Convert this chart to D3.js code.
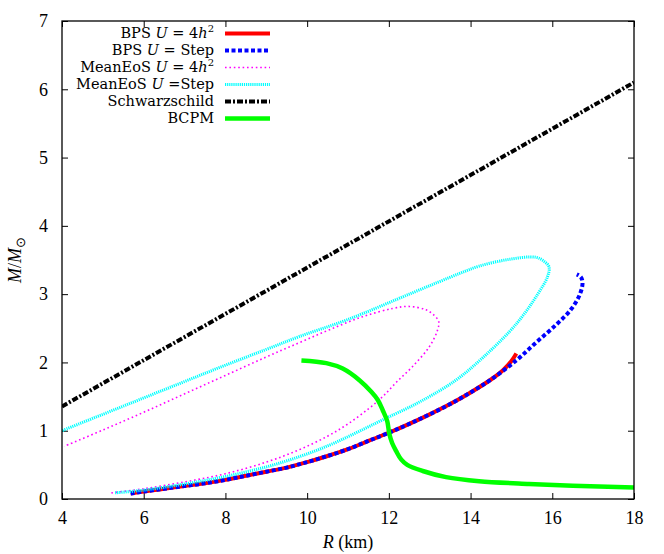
<!DOCTYPE html>
<html>
<head>
<meta charset="utf-8">
<script src="https://cdn.jsdelivr.net/npm/d3@7"></script>
<style>
  body { margin: 0; background: #fff; }
  svg text { font-family: "Liberation Serif", serif; }
</style>
</head>
<body>
<svg id="chart" width="664" height="554"></svg>
<script>

// M-R curves as [R (km), M/Msun]
var bps4h2 = [
  [5.68, 0.08], [6.0, 0.11], [6.5, 0.15], [7.0, 0.19], [7.5, 0.23], [8.0, 0.28],
  [8.5, 0.34], [9.0, 0.40], [9.5, 0.46], [10.0, 0.54], [10.5, 0.63], [11.0, 0.73],
  [11.5, 0.85], [12.0, 0.97], [12.5, 1.10], [13.0, 1.24], [13.5, 1.39], [14.0, 1.56],
  [14.5, 1.75], [14.8, 1.89], [15.0, 2.02], [15.12, 2.13]
];

var bpsStep = [
  [5.68, 0.08], [6.0, 0.11], [6.5, 0.15], [7.0, 0.19], [7.5, 0.23], [8.0, 0.28],
  [8.5, 0.34], [9.0, 0.40], [9.5, 0.46], [10.0, 0.54], [10.5, 0.63], [11.0, 0.73],
  [11.5, 0.85], [12.0, 0.97], [12.5, 1.10], [13.0, 1.24], [13.5, 1.39], [14.0, 1.56],
  [14.5, 1.75], [15.12, 2.03], [15.6, 2.29], [16.09, 2.55], [16.45, 2.77],
  [16.67, 2.99], [16.74, 3.16], [16.7, 3.25], [16.6, 3.29]
];

var mean4h2 = [
  [5.21, 0.09], [6.0, 0.15], [7.0, 0.25], [8.0, 0.37], [9.0, 0.54], [9.8, 0.72],
  [10.5, 0.92], [11.0, 1.10], [11.5, 1.32], [11.85, 1.50], [12.2, 1.72], [12.58, 1.94],
  [12.99, 2.23], [13.19, 2.47], [13.22, 2.60], [13.11, 2.69], [12.91, 2.77],
  [12.5, 2.82], [12.09, 2.79], [11.36, 2.67], [10.55, 2.48], [9.81, 2.29],
  [9.0, 2.08], [8.0, 1.81], [7.0, 1.54], [6.0, 1.27], [5.0, 1.01], [4.05, 0.77]
];

var meanStep = [
  [5.3, 0.09], [6.0, 0.13], [7.0, 0.22], [8.0, 0.33], [9.0, 0.47], [9.81, 0.62],
  [10.55, 0.79], [11.2, 0.97], [11.85, 1.16], [12.75, 1.42], [13.64, 1.74],
  [14.3, 2.07], [14.95, 2.45], [15.3, 2.70], [15.6, 2.96], [15.88, 3.25],
  [15.92, 3.40], [15.8, 3.48], [15.6, 3.54], [14.95, 3.51], [14.21, 3.41],
  [13.72, 3.30], [12.58, 3.02], [10.96, 2.62], [9.81, 2.38], [9.0, 2.19],
  [8.0, 1.96], [7.0, 1.72], [6.0, 1.48], [5.0, 1.24], [4.0, 1.00]
];

var schwarzschild = [[4.0, 1.355], [18.0, 6.10]];

var bcpm = [
  [9.86, 2.03], [10.47, 1.99], [10.87, 1.91], [11.28, 1.74], [11.57, 1.57],
  [11.73, 1.45], [11.85, 1.30], [11.96, 1.14], [12.01, 0.96], [12.08, 0.82],
  [12.18, 0.70], [12.3, 0.58], [12.45, 0.50], [12.83, 0.41], [13.4, 0.32],
  [14.21, 0.26], [15.43, 0.22], [16.5, 0.195], [18.0, 0.17]
];

var xTicks = [4, 6, 8, 10, 12, 14, 16, 18];
var yTicks = [0, 1, 2, 3, 4, 5, 6, 7];

var series = [
  { name: "BPS", math: "U = 4h", sup: "2", data: bps4h2, color: "#ff0000", width: 4, dash: null },
  { name: "BPS", math: "U = ", rest: "Step", data: bpsStep, color: "#0000ff", width: 4, dash: "4,2.5" },
  { name: "MeanEoS", math: "U = 4h", sup: "2", data: mean4h2, color: "#ff00ff", width: 1.6, dash: "1.6,2.8" },
  { name: "MeanEoS", math: "U =", rest: "Step", data: meanStep, color: "#00ffff", width: 3, dash: "1.2,0.9" },
  { name: "Schwarzschild", data: schwarzschild, color: "#000000", width: 4, dash: "6,2,2,2" },
  { name: "BCPM", data: bcpm, color: "#00ff00", width: 4.5, dash: null }
];

var serif = "Liberation Serif";

var svg = d3.select("#chart");
var width = 664, height = 554;
var margin = { top: 21, right: 30, bottom: 55, left: 62 };

var x = d3.scaleLinear().domain([4, 18]).range([margin.left, width - margin.right]);
var y = d3.scaleLinear().domain([0, 7]).range([height - margin.bottom, margin.top]);

svg.append("defs").append("clipPath")
    .attr("id", "plotclip")
  .append("rect")
    .attr("x", margin.left)
    .attr("y", margin.top)
    .attr("width", x(18) - x(4))
    .attr("height", y(0) - y(7));

// axes with inward ticks, mirrored on top / right
var tickLen = 6;
var fmt = d3.format("d");

function styleAxis(g) {
  g.attr("font-family", serif).attr("font-size", 18);
  g.select(".domain").remove();
  g.selectAll(".tick line").attr("stroke", "#000");
  g.selectAll(".tick text").attr("fill", "#000");
}

svg.append("g")
    .attr("transform", "translate(0," + y(0) + ")")
    .call(d3.axisBottom(x).tickValues(xTicks).tickFormat(fmt).tickSizeInner(-tickLen).tickSizeOuter(0).tickPadding(12))
    .call(styleAxis);

svg.append("g")
    .attr("transform", "translate(0," + y(7) + ")")
    .call(d3.axisTop(x).tickValues(xTicks).tickSizeInner(-tickLen).tickSizeOuter(0).tickFormat(""))
    .call(styleAxis);

svg.append("g")
    .attr("transform", "translate(" + x(4) + ",0)")
    .call(d3.axisLeft(y).tickValues(yTicks).tickFormat(fmt).tickSizeInner(-tickLen).tickSizeOuter(0).tickPadding(14))
    .call(styleAxis);

svg.append("g")
    .attr("transform", "translate(" + x(18) + ",0)")
    .call(d3.axisRight(y).tickValues(yTicks).tickSizeInner(-tickLen).tickSizeOuter(0).tickFormat(""))
    .call(styleAxis);

var line = d3.line()
    .x(function(d) { return x(d[0]); })
    .y(function(d) { return y(d[1]); })
    .curve(d3.curveCatmullRom.alpha(0.5));

var curves = svg.append("g").attr("clip-path", "url(#plotclip)");

curves.selectAll("path")
    .data(series)
    .enter().append("path")
      .attr("d", function(d) { return line(d.data); })
      .attr("fill", "none")
      .attr("stroke", function(d) { return d.color; })
      .attr("stroke-width", function(d) { return d.width; })
      .attr("stroke-dasharray", function(d) { return d.dash; })
      .attr("stroke-linejoin", "round");

// frame
svg.append("rect")
    .attr("x", x(4))
    .attr("y", y(7))
    .attr("width", x(18) - x(4))
    .attr("height", y(0) - y(7))
    .attr("fill", "none")
    .attr("stroke", "#000")
    .attr("stroke-width", 1.3);

// legend (rows are tight, so a slightly smaller wide serif keeps them apart)
var legend = svg.append("g");
var rows = legend.selectAll("g")
    .data(series)
    .enter().append("g")
      .attr("transform", function(d, i) { return "translate(0," + (33 + i * 17) + ")"; });

rows.append("line")
    .attr("x1", 225).attr("x2", 270)
    .attr("y1", 0.5).attr("y2", 0.5)
    .attr("stroke", function(d) { return d.color; })
    .attr("stroke-width", function(d) { return d.width; })
    .attr("stroke-dasharray", function(d) { return d.dash; });

var labels = rows.append("text")
    .attr("x", 214)
    .attr("y", 5)
    .attr("text-anchor", "end")
    .attr("font-family", "DejaVu Serif")
    .style("font-family", "'DejaVu Serif', serif")
    .style("font-size", "14.5px");

labels.each(function(d) {
  var t = d3.select(this);
  t.append("tspan").text(d.name);
  if (d.math) {
    var parts = d.math.split(" ");
    t.append("tspan").text(" ");
    parts.forEach(function(p, k) {
      if (k > 0) t.append("tspan").text(" ");
      if (p === "=") t.append("tspan").text("=");
      else if (p !== "") {
        // letters italic, digits upright
        var m = p.match(/^(\d*)(\D*)$/);
        if (m && m[1]) t.append("tspan").text(m[1]);
        if (m && m[2]) t.append("tspan").style("font-style", "italic").text(m[2]);
      }
    });
    if (d.sup) t.append("tspan").attr("dy", -6).style("font-size", "10px").text(d.sup);
    if (d.rest) t.append("tspan").text(d.rest);
  }
});

// axis titles
var xt = svg.append("text")
    .attr("x", (x(4) + x(18)) / 2)
    .attr("y", 548)
    .attr("text-anchor", "middle")
    .attr("font-family", serif)
    .style("font-size", "18px");
xt.append("tspan").style("font-style", "italic").text("R");
xt.append("tspan").text(" (km)");

var yt = svg.append("text")
    .attr("transform", "translate(21," + ((y(0) + y(7)) / 2) + ") rotate(-90)")
    .attr("text-anchor", "middle")
    .attr("font-family", serif)
    .style("font-size", "18px");
yt.append("tspan").style("font-style", "italic").text("M");
yt.append("tspan").text("/");
yt.append("tspan").style("font-style", "italic").text("M");
yt.append("tspan").attr("dy", 4).style("font-size", "13px").text("\u2299");

</script>
</body>
</html>
